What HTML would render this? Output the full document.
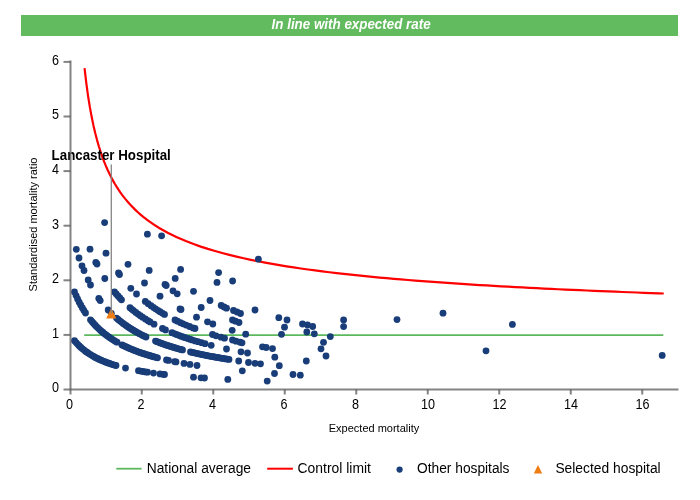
<!DOCTYPE html>
<html><head><meta charset="utf-8"><title>Funnel plot</title>
<style>
html,body{margin:0;padding:0;background:#fff;}
body{width:700px;height:500px;overflow:hidden;font-family:"Liberation Sans",sans-serif;}
svg{display:block;}
text{font-family:"Liberation Sans",sans-serif;fill:#000;}
</style></head><body>
<svg width="700" height="500" viewBox="0 0 700 500">
<rect x="0" y="0" width="700" height="500" fill="#fff"/>
<rect x="21" y="15" width="657" height="21" fill="#62bb5e"/>
<text x="271.6" y="28.5" textLength="159" lengthAdjust="spacingAndGlyphs" font-size="14" font-weight="bold" font-style="italic" style="fill:#fff">In line with expected rate</text>
<text transform="translate(58.9,392.40) scale(0.9,1)" text-anchor="end" font-size="14">0</text>
<text transform="translate(58.9,337.80) scale(0.9,1)" text-anchor="end" font-size="14">1</text>
<text transform="translate(58.9,283.20) scale(0.9,1)" text-anchor="end" font-size="14">2</text>
<text transform="translate(58.9,228.60) scale(0.9,1)" text-anchor="end" font-size="14">3</text>
<text transform="translate(58.9,174.00) scale(0.9,1)" text-anchor="end" font-size="14">4</text>
<text transform="translate(58.9,119.40) scale(0.9,1)" text-anchor="end" font-size="14">5</text>
<text transform="translate(58.9,64.80) scale(0.9,1)" text-anchor="end" font-size="14">6</text>
<text transform="translate(69.45,409) scale(0.9,1)" text-anchor="middle" font-size="14">0</text>
<text transform="translate(140.95,409) scale(0.9,1)" text-anchor="middle" font-size="14">2</text>
<text transform="translate(212.45,409) scale(0.9,1)" text-anchor="middle" font-size="14">4</text>
<text transform="translate(283.95,409) scale(0.9,1)" text-anchor="middle" font-size="14">6</text>
<text transform="translate(355.45,409) scale(0.9,1)" text-anchor="middle" font-size="14">8</text>
<text transform="translate(427.95,409) scale(0.9,1)" text-anchor="middle" font-size="14">10</text>
<text transform="translate(499.45,409) scale(0.9,1)" text-anchor="middle" font-size="14">12</text>
<text transform="translate(570.95,409) scale(0.9,1)" text-anchor="middle" font-size="14">14</text>
<text transform="translate(642.45,409) scale(0.9,1)" text-anchor="middle" font-size="14">16</text>
<text transform="translate(37,224.5) rotate(-90)" text-anchor="middle" font-size="11">Standardised mortality ratio</text>
<text x="374" y="431.6" text-anchor="middle" font-size="11">Expected mortality</text>
<path d="M84.19,335.2H663.3" stroke="#5cb85c" stroke-width="1.8" fill="none"/>
<path d="M84.55,68.14 L86.34,83.40 L88.12,96.30 L89.91,107.41 L91.70,117.09 L93.49,125.64 L95.28,133.25 L97.06,140.09 L98.85,146.27 L100.64,151.90 L102.43,157.06 L104.21,161.80 L106.00,166.19 L107.79,170.25 L109.58,174.04 L111.36,177.57 L113.15,180.89 L114.94,184.00 L116.73,186.93 L118.51,189.69 L120.30,192.31 L122.09,194.79 L123.88,197.15 L125.66,199.39 L127.45,201.52 L129.24,203.56 L131.03,205.50 L132.81,207.36 L134.60,209.15 L136.39,210.86 L138.18,212.50 L139.96,214.08 L141.75,215.60 L143.54,217.07 L145.33,218.48 L147.11,219.84 L148.90,221.15 L150.69,222.42 L152.48,223.65 L154.26,224.84 L156.05,226.00 L157.84,227.11 L159.62,228.20 L161.41,229.25 L163.20,230.27 L164.99,231.26 L166.77,232.22 L168.56,233.16 L170.35,234.07 L172.14,234.96 L173.92,235.83 L175.71,236.67 L177.50,237.49 L179.29,238.29 L186.44,241.31 L193.59,244.07 L200.74,246.59 L207.89,248.92 L215.04,251.07 L222.19,253.06 L229.34,254.92 L236.49,256.66 L243.64,258.29 L250.79,259.82 L257.94,261.27 L265.09,262.63 L272.24,263.92 L279.39,265.15 L286.54,266.31 L293.69,267.41 L300.84,268.47 L307.99,269.48 L315.14,270.44 L322.29,271.36 L329.44,272.24 L336.59,273.09 L343.74,273.90 L350.89,274.68 L358.04,275.44 L365.19,276.16 L372.34,276.86 L379.49,277.54 L386.64,278.19 L393.79,278.82 L400.94,279.43 L408.09,280.02 L415.24,280.59 L422.39,281.14 L429.54,281.68 L436.69,282.20 L443.84,282.71 L450.99,283.20 L458.14,283.68 L465.29,284.15 L472.44,284.60 L479.59,285.04 L486.74,285.47 L493.89,285.89 L501.04,286.30 L508.19,286.70 L515.34,287.08 L522.49,287.46 L529.64,287.83 L536.79,288.20 L543.94,288.55 L551.09,288.90 L558.24,289.23 L565.39,289.57 L572.54,289.89 L579.69,290.21 L586.84,290.52 L593.99,290.82 L601.14,291.12 L608.29,291.41 L615.44,291.70 L622.59,291.98 L629.74,292.25 L636.89,292.52 L644.04,292.79 L651.19,293.05 L658.34,293.30 L663.70,293.49" stroke="#ff0000" stroke-width="2.2" fill="none" stroke-linejoin="round"/>
<g fill="#183d78">
<circle cx="74.5" cy="340.7" r="3.4"/>
<circle cx="76.1" cy="342.6" r="3.4"/>
<circle cx="77.7" cy="344.3" r="3.4"/>
<circle cx="79.3" cy="345.9" r="3.4"/>
<circle cx="80.9" cy="347.4" r="3.4"/>
<circle cx="82.5" cy="348.8" r="3.4"/>
<circle cx="84.1" cy="350.1" r="3.4"/>
<circle cx="85.7" cy="351.4" r="3.4"/>
<circle cx="87.3" cy="352.5" r="3.4"/>
<circle cx="88.9" cy="353.6" r="3.4"/>
<circle cx="90.5" cy="354.6" r="3.4"/>
<circle cx="92.1" cy="355.6" r="3.4"/>
<circle cx="93.7" cy="356.5" r="3.4"/>
<circle cx="95.2" cy="357.4" r="3.4"/>
<circle cx="96.8" cy="358.2" r="3.4"/>
<circle cx="98.4" cy="359.0" r="3.4"/>
<circle cx="100.0" cy="359.7" r="3.4"/>
<circle cx="101.6" cy="360.4" r="3.4"/>
<circle cx="103.2" cy="361.1" r="3.4"/>
<circle cx="104.8" cy="361.7" r="3.4"/>
<circle cx="106.4" cy="362.4" r="3.4"/>
<circle cx="108.0" cy="362.9" r="3.4"/>
<circle cx="109.6" cy="363.5" r="3.4"/>
<circle cx="111.2" cy="364.1" r="3.4"/>
<circle cx="112.8" cy="364.6" r="3.4"/>
<circle cx="114.4" cy="365.1" r="3.4"/>
<circle cx="116.0" cy="365.5" r="3.4"/>
<circle cx="125.5" cy="368.1" r="3.4"/>
<circle cx="138.5" cy="370.7" r="3.4"/>
<circle cx="140.5" cy="371.1" r="3.4"/>
<circle cx="143.0" cy="371.5" r="3.4"/>
<circle cx="145.5" cy="371.9" r="3.4"/>
<circle cx="147.5" cy="372.2" r="3.4"/>
<circle cx="153.5" cy="373.1" r="3.4"/>
<circle cx="160.0" cy="373.9" r="3.4"/>
<circle cx="163.0" cy="374.3" r="3.4"/>
<circle cx="164.5" cy="374.5" r="3.4"/>
<circle cx="193.5" cy="377.2" r="3.4"/>
<circle cx="201.0" cy="377.8" r="3.4"/>
<circle cx="204.5" cy="378.0" r="3.4"/>
<circle cx="227.8" cy="379.4" r="3.4"/>
<circle cx="267.2" cy="381.1" r="3.4"/>
<circle cx="74.5" cy="291.9" r="3.4"/>
<circle cx="76.1" cy="295.6" r="3.4"/>
<circle cx="77.6" cy="299.0" r="3.4"/>
<circle cx="79.2" cy="302.2" r="3.4"/>
<circle cx="80.8" cy="305.2" r="3.4"/>
<circle cx="82.4" cy="307.9" r="3.4"/>
<circle cx="83.9" cy="310.5" r="3.4"/>
<circle cx="85.5" cy="313.0" r="3.4"/>
<circle cx="90.5" cy="319.8" r="3.4"/>
<circle cx="92.1" cy="321.7" r="3.4"/>
<circle cx="93.6" cy="323.5" r="3.4"/>
<circle cx="95.2" cy="325.2" r="3.4"/>
<circle cx="96.7" cy="326.8" r="3.4"/>
<circle cx="98.3" cy="328.3" r="3.4"/>
<circle cx="99.9" cy="329.8" r="3.4"/>
<circle cx="101.4" cy="331.2" r="3.4"/>
<circle cx="103.0" cy="332.5" r="3.4"/>
<circle cx="104.5" cy="333.8" r="3.4"/>
<circle cx="106.1" cy="335.0" r="3.4"/>
<circle cx="107.6" cy="336.1" r="3.4"/>
<circle cx="109.2" cy="337.2" r="3.4"/>
<circle cx="110.8" cy="338.3" r="3.4"/>
<circle cx="112.3" cy="339.3" r="3.4"/>
<circle cx="113.9" cy="340.3" r="3.4"/>
<circle cx="115.4" cy="341.3" r="3.4"/>
<circle cx="117.0" cy="342.2" r="3.4"/>
<circle cx="122.0" cy="344.9" r="3.4"/>
<circle cx="123.6" cy="345.7" r="3.4"/>
<circle cx="125.2" cy="346.5" r="3.4"/>
<circle cx="126.8" cy="347.2" r="3.4"/>
<circle cx="128.5" cy="347.9" r="3.4"/>
<circle cx="130.1" cy="348.7" r="3.4"/>
<circle cx="131.7" cy="349.3" r="3.4"/>
<circle cx="133.3" cy="350.0" r="3.4"/>
<circle cx="134.9" cy="350.6" r="3.4"/>
<circle cx="136.5" cy="351.2" r="3.4"/>
<circle cx="138.1" cy="351.8" r="3.4"/>
<circle cx="139.8" cy="352.4" r="3.4"/>
<circle cx="141.4" cy="353.0" r="3.4"/>
<circle cx="143.0" cy="353.5" r="3.4"/>
<circle cx="144.6" cy="354.0" r="3.4"/>
<circle cx="146.2" cy="354.6" r="3.4"/>
<circle cx="147.8" cy="355.0" r="3.4"/>
<circle cx="149.4" cy="355.5" r="3.4"/>
<circle cx="151.0" cy="356.0" r="3.4"/>
<circle cx="152.7" cy="356.5" r="3.4"/>
<circle cx="154.3" cy="356.9" r="3.4"/>
<circle cx="155.9" cy="357.3" r="3.4"/>
<circle cx="157.5" cy="357.8" r="3.4"/>
<circle cx="166.5" cy="359.9" r="3.4"/>
<circle cx="168.5" cy="360.4" r="3.4"/>
<circle cx="174.5" cy="361.6" r="3.4"/>
<circle cx="176.0" cy="361.9" r="3.4"/>
<circle cx="184.0" cy="363.4" r="3.4"/>
<circle cx="190.0" cy="364.4" r="3.4"/>
<circle cx="197.0" cy="365.5" r="3.4"/>
<circle cx="116.5" cy="318.1" r="3.4"/>
<circle cx="118.1" cy="319.5" r="3.4"/>
<circle cx="119.8" cy="320.8" r="3.4"/>
<circle cx="121.4" cy="322.1" r="3.4"/>
<circle cx="123.1" cy="323.4" r="3.4"/>
<circle cx="124.7" cy="324.6" r="3.4"/>
<circle cx="126.3" cy="325.7" r="3.4"/>
<circle cx="128.0" cy="326.9" r="3.4"/>
<circle cx="129.6" cy="327.9" r="3.4"/>
<circle cx="131.2" cy="329.0" r="3.4"/>
<circle cx="132.9" cy="330.0" r="3.4"/>
<circle cx="134.5" cy="331.0" r="3.4"/>
<circle cx="136.2" cy="331.9" r="3.4"/>
<circle cx="137.8" cy="332.8" r="3.4"/>
<circle cx="139.4" cy="333.7" r="3.4"/>
<circle cx="141.1" cy="334.6" r="3.4"/>
<circle cx="142.7" cy="335.4" r="3.4"/>
<circle cx="144.4" cy="336.2" r="3.4"/>
<circle cx="146.0" cy="337.0" r="3.4"/>
<circle cx="155.5" cy="341.1" r="3.4"/>
<circle cx="157.1" cy="341.7" r="3.4"/>
<circle cx="158.7" cy="342.3" r="3.4"/>
<circle cx="160.3" cy="342.9" r="3.4"/>
<circle cx="161.9" cy="343.5" r="3.4"/>
<circle cx="163.4" cy="344.1" r="3.4"/>
<circle cx="165.0" cy="344.6" r="3.4"/>
<circle cx="166.6" cy="345.2" r="3.4"/>
<circle cx="168.2" cy="345.7" r="3.4"/>
<circle cx="169.8" cy="346.2" r="3.4"/>
<circle cx="171.4" cy="346.7" r="3.4"/>
<circle cx="173.0" cy="347.2" r="3.4"/>
<circle cx="174.6" cy="347.7" r="3.4"/>
<circle cx="176.1" cy="348.2" r="3.4"/>
<circle cx="177.7" cy="348.6" r="3.4"/>
<circle cx="179.3" cy="349.1" r="3.4"/>
<circle cx="180.9" cy="349.5" r="3.4"/>
<circle cx="182.5" cy="349.9" r="3.4"/>
<circle cx="190.5" cy="352.0" r="3.4"/>
<circle cx="192.1" cy="352.3" r="3.4"/>
<circle cx="193.7" cy="352.7" r="3.4"/>
<circle cx="195.3" cy="353.1" r="3.4"/>
<circle cx="196.9" cy="353.4" r="3.4"/>
<circle cx="198.5" cy="353.8" r="3.4"/>
<circle cx="200.1" cy="354.1" r="3.4"/>
<circle cx="201.7" cy="354.5" r="3.4"/>
<circle cx="203.3" cy="354.8" r="3.4"/>
<circle cx="204.9" cy="355.1" r="3.4"/>
<circle cx="206.5" cy="355.5" r="3.4"/>
<circle cx="208.1" cy="355.8" r="3.4"/>
<circle cx="209.8" cy="356.1" r="3.4"/>
<circle cx="211.4" cy="356.4" r="3.4"/>
<circle cx="213.0" cy="356.7" r="3.4"/>
<circle cx="214.6" cy="357.0" r="3.4"/>
<circle cx="216.2" cy="357.3" r="3.4"/>
<circle cx="217.8" cy="357.5" r="3.4"/>
<circle cx="219.4" cy="357.8" r="3.4"/>
<circle cx="221.0" cy="358.1" r="3.4"/>
<circle cx="222.6" cy="358.4" r="3.4"/>
<circle cx="224.2" cy="358.6" r="3.4"/>
<circle cx="225.8" cy="358.9" r="3.4"/>
<circle cx="227.4" cy="359.1" r="3.4"/>
<circle cx="229.0" cy="359.4" r="3.4"/>
<circle cx="114.5" cy="291.9" r="3.4"/>
<circle cx="116.2" cy="294.0" r="3.4"/>
<circle cx="118.0" cy="296.0" r="3.4"/>
<circle cx="119.8" cy="297.9" r="3.4"/>
<circle cx="121.5" cy="299.8" r="3.4"/>
<circle cx="130.0" cy="307.7" r="3.4"/>
<circle cx="131.8" cy="309.3" r="3.4"/>
<circle cx="133.5" cy="310.6" r="3.4"/>
<circle cx="135.8" cy="312.4" r="3.4"/>
<circle cx="138.0" cy="314.1" r="3.4"/>
<circle cx="140.3" cy="315.7" r="3.4"/>
<circle cx="142.5" cy="317.2" r="3.4"/>
<circle cx="145.3" cy="319.0" r="3.4"/>
<circle cx="148.0" cy="320.7" r="3.4"/>
<circle cx="150.0" cy="321.9" r="3.4"/>
<circle cx="154.0" cy="324.2" r="3.4"/>
<circle cx="162.5" cy="328.5" r="3.4"/>
<circle cx="165.5" cy="329.9" r="3.4"/>
<circle cx="172.0" cy="332.7" r="3.4"/>
<circle cx="174.2" cy="333.6" r="3.4"/>
<circle cx="176.4" cy="334.5" r="3.4"/>
<circle cx="178.7" cy="335.3" r="3.4"/>
<circle cx="180.9" cy="336.2" r="3.4"/>
<circle cx="183.1" cy="337.0" r="3.4"/>
<circle cx="185.3" cy="337.7" r="3.4"/>
<circle cx="187.6" cy="338.5" r="3.4"/>
<circle cx="189.8" cy="339.2" r="3.4"/>
<circle cx="192.0" cy="339.9" r="3.4"/>
<circle cx="195.0" cy="340.9" r="3.4"/>
<circle cx="198.0" cy="341.7" r="3.4"/>
<circle cx="201.5" cy="342.7" r="3.4"/>
<circle cx="205.0" cy="343.7" r="3.4"/>
<circle cx="211.2" cy="345.3" r="3.4"/>
<circle cx="145.3" cy="301.4" r="3.4"/>
<circle cx="148.2" cy="303.7" r="3.4"/>
<circle cx="151.0" cy="305.7" r="3.4"/>
<circle cx="153.3" cy="307.3" r="3.4"/>
<circle cx="155.5" cy="308.8" r="3.4"/>
<circle cx="157.8" cy="310.3" r="3.4"/>
<circle cx="160.0" cy="311.7" r="3.4"/>
<circle cx="162.2" cy="313.1" r="3.4"/>
<circle cx="164.5" cy="314.4" r="3.4"/>
<circle cx="175.0" cy="320.0" r="3.4"/>
<circle cx="177.5" cy="321.2" r="3.4"/>
<circle cx="180.5" cy="322.7" r="3.4"/>
<circle cx="183.0" cy="323.8" r="3.4"/>
<circle cx="186.0" cy="325.1" r="3.4"/>
<circle cx="189.5" cy="326.5" r="3.4"/>
<circle cx="193.0" cy="327.9" r="3.4"/>
<circle cx="104.6" cy="222.6" r="3.4"/>
<circle cx="147.4" cy="234.2" r="3.4"/>
<circle cx="161.6" cy="235.8" r="3.4"/>
<circle cx="76.3" cy="249.3" r="3.4"/>
<circle cx="90.0" cy="249.2" r="3.4"/>
<circle cx="106.0" cy="253.2" r="3.4"/>
<circle cx="79.0" cy="258.0" r="3.4"/>
<circle cx="95.8" cy="262.5" r="3.4"/>
<circle cx="97.0" cy="264.0" r="3.4"/>
<circle cx="82.0" cy="265.8" r="3.4"/>
<circle cx="84.0" cy="270.5" r="3.4"/>
<circle cx="128.0" cy="264.3" r="3.4"/>
<circle cx="149.2" cy="270.4" r="3.4"/>
<circle cx="180.6" cy="269.4" r="3.4"/>
<circle cx="118.5" cy="273.0" r="3.4"/>
<circle cx="119.5" cy="274.5" r="3.4"/>
<circle cx="104.8" cy="278.5" r="3.4"/>
<circle cx="175.2" cy="278.4" r="3.4"/>
<circle cx="88.2" cy="280.0" r="3.4"/>
<circle cx="90.5" cy="285.0" r="3.4"/>
<circle cx="144.5" cy="283.0" r="3.4"/>
<circle cx="165.0" cy="284.5" r="3.4"/>
<circle cx="166.2" cy="285.5" r="3.4"/>
<circle cx="130.8" cy="288.3" r="3.4"/>
<circle cx="173.0" cy="290.8" r="3.4"/>
<circle cx="177.2" cy="293.8" r="3.4"/>
<circle cx="193.5" cy="291.3" r="3.4"/>
<circle cx="136.5" cy="294.0" r="3.4"/>
<circle cx="160.0" cy="296.2" r="3.4"/>
<circle cx="98.8" cy="298.5" r="3.4"/>
<circle cx="100.2" cy="300.6" r="3.4"/>
<circle cx="108.2" cy="310.0" r="3.4"/>
<circle cx="180.0" cy="309.0" r="3.4"/>
<circle cx="181.0" cy="309.5" r="3.4"/>
<circle cx="258.4" cy="259.2" r="3.4"/>
<circle cx="218.6" cy="272.6" r="3.4"/>
<circle cx="217.0" cy="282.4" r="3.4"/>
<circle cx="232.6" cy="281.0" r="3.4"/>
<circle cx="343.6" cy="320.0" r="3.4"/>
<circle cx="343.6" cy="326.6" r="3.4"/>
<circle cx="330.3" cy="336.6" r="3.4"/>
<circle cx="397.0" cy="319.6" r="3.4"/>
<circle cx="443.0" cy="313.2" r="3.4"/>
<circle cx="512.4" cy="324.4" r="3.4"/>
<circle cx="486.0" cy="350.8" r="3.4"/>
<circle cx="662.2" cy="355.4" r="3.4"/>
<circle cx="278.8" cy="317.7" r="3.4"/>
<circle cx="287.0" cy="320.0" r="3.4"/>
<circle cx="284.5" cy="327.2" r="3.4"/>
<circle cx="281.5" cy="334.3" r="3.4"/>
<circle cx="302.5" cy="324.0" r="3.4"/>
<circle cx="307.5" cy="325.0" r="3.4"/>
<circle cx="312.7" cy="326.5" r="3.4"/>
<circle cx="306.8" cy="332.0" r="3.4"/>
<circle cx="314.3" cy="333.8" r="3.4"/>
<circle cx="323.5" cy="342.3" r="3.4"/>
<circle cx="262.5" cy="346.8" r="3.4"/>
<circle cx="266.2" cy="347.5" r="3.4"/>
<circle cx="272.5" cy="348.6" r="3.4"/>
<circle cx="274.8" cy="357.2" r="3.4"/>
<circle cx="279.3" cy="365.7" r="3.4"/>
<circle cx="274.5" cy="373.5" r="3.4"/>
<circle cx="293.0" cy="374.5" r="3.4"/>
<circle cx="300.3" cy="375.2" r="3.4"/>
<circle cx="306.3" cy="361.0" r="3.4"/>
<circle cx="321.0" cy="348.8" r="3.4"/>
<circle cx="326.0" cy="356.0" r="3.4"/>
<circle cx="210.0" cy="300.5" r="3.4"/>
<circle cx="201.2" cy="307.5" r="3.4"/>
<circle cx="221.2" cy="305.5" r="3.4"/>
<circle cx="224.0" cy="307.0" r="3.4"/>
<circle cx="226.5" cy="308.2" r="3.4"/>
<circle cx="233.5" cy="310.5" r="3.4"/>
<circle cx="237.0" cy="312.0" r="3.4"/>
<circle cx="240.5" cy="313.5" r="3.4"/>
<circle cx="255.0" cy="310.0" r="3.4"/>
<circle cx="196.5" cy="317.2" r="3.4"/>
<circle cx="207.5" cy="321.8" r="3.4"/>
<circle cx="212.8" cy="324.0" r="3.4"/>
<circle cx="232.5" cy="320.0" r="3.4"/>
<circle cx="235.5" cy="321.2" r="3.4"/>
<circle cx="239.0" cy="322.5" r="3.4"/>
<circle cx="195.0" cy="328.5" r="3.4"/>
<circle cx="232.2" cy="330.3" r="3.4"/>
<circle cx="245.7" cy="334.2" r="3.4"/>
<circle cx="212.5" cy="334.5" r="3.4"/>
<circle cx="216.0" cy="335.8" r="3.4"/>
<circle cx="221.0" cy="337.2" r="3.4"/>
<circle cx="224.5" cy="338.2" r="3.4"/>
<circle cx="232.5" cy="340.0" r="3.4"/>
<circle cx="236.0" cy="341.2" r="3.4"/>
<circle cx="240.0" cy="342.2" r="3.4"/>
<circle cx="242.0" cy="342.8" r="3.4"/>
<circle cx="226.5" cy="349.0" r="3.4"/>
<circle cx="241.0" cy="351.8" r="3.4"/>
<circle cx="247.5" cy="353.0" r="3.4"/>
<circle cx="238.7" cy="361.0" r="3.4"/>
<circle cx="248.5" cy="362.5" r="3.4"/>
<circle cx="255.0" cy="363.3" r="3.4"/>
<circle cx="260.5" cy="363.8" r="3.4"/>
<circle cx="242.3" cy="370.8" r="3.4"/>
<circle cx="111.3" cy="313.3" r="3.4"/>
</g>
<path d="M111.25,308.3L116.3,318.6H106.1Z" fill="#f07d12"/>
<path d="M111.3,164.4V313.6" stroke="#858585" stroke-width="1.3" fill="none"/>
<text x="51.6" y="160" textLength="119.2" lengthAdjust="spacingAndGlyphs" font-size="14" font-weight="bold">Lancaster Hospital</text>
<g stroke="#5c5c5c" stroke-opacity="0.76" stroke-width="2" fill="none">
<path d="M70.5,60.5V394.5"/>
<path d="M63.5,389.5H678.5"/>
<path d="M63.5,334.90H70.5"/>
<path d="M63.5,280.30H70.5"/>
<path d="M63.5,225.70H70.5"/>
<path d="M63.5,171.10H70.5"/>
<path d="M63.5,116.50H70.5"/>
<path d="M63.5,61.90H70.5"/>
<path d="M141.75,389.5V394.5"/>
<path d="M213.25,389.5V394.5"/>
<path d="M284.75,389.5V394.5"/>
<path d="M356.25,389.5V394.5"/>
<path d="M427.75,389.5V394.5"/>
<path d="M499.25,389.5V394.5"/>
<path d="M570.75,389.5V394.5"/>
<path d="M642.25,389.5V394.5"/>
</g>
<path d="M116.3,468.7H141.6" stroke="#5cb85c" stroke-width="1.8"/>
<text x="146.7" y="472.9" textLength="104.3" lengthAdjust="spacingAndGlyphs" font-size="14">National average</text>
<path d="M267.2,468.7H292.9" stroke="#ff0000" stroke-width="2"/>
<text x="297.6" y="472.9" textLength="73.3" lengthAdjust="spacingAndGlyphs" font-size="14">Control limit</text>
<circle cx="399.6" cy="469.6" r="3.1" fill="#183d78"/>
<text x="417.1" y="472.9" textLength="92.4" lengthAdjust="spacingAndGlyphs" font-size="14">Other hospitals</text>
<path d="M538,465L542.2,473.4H533.8Z" fill="#f07d12"/>
<text x="555.4" y="472.9" textLength="105.3" lengthAdjust="spacingAndGlyphs" font-size="14">Selected hospital</text>
</svg></body></html>
